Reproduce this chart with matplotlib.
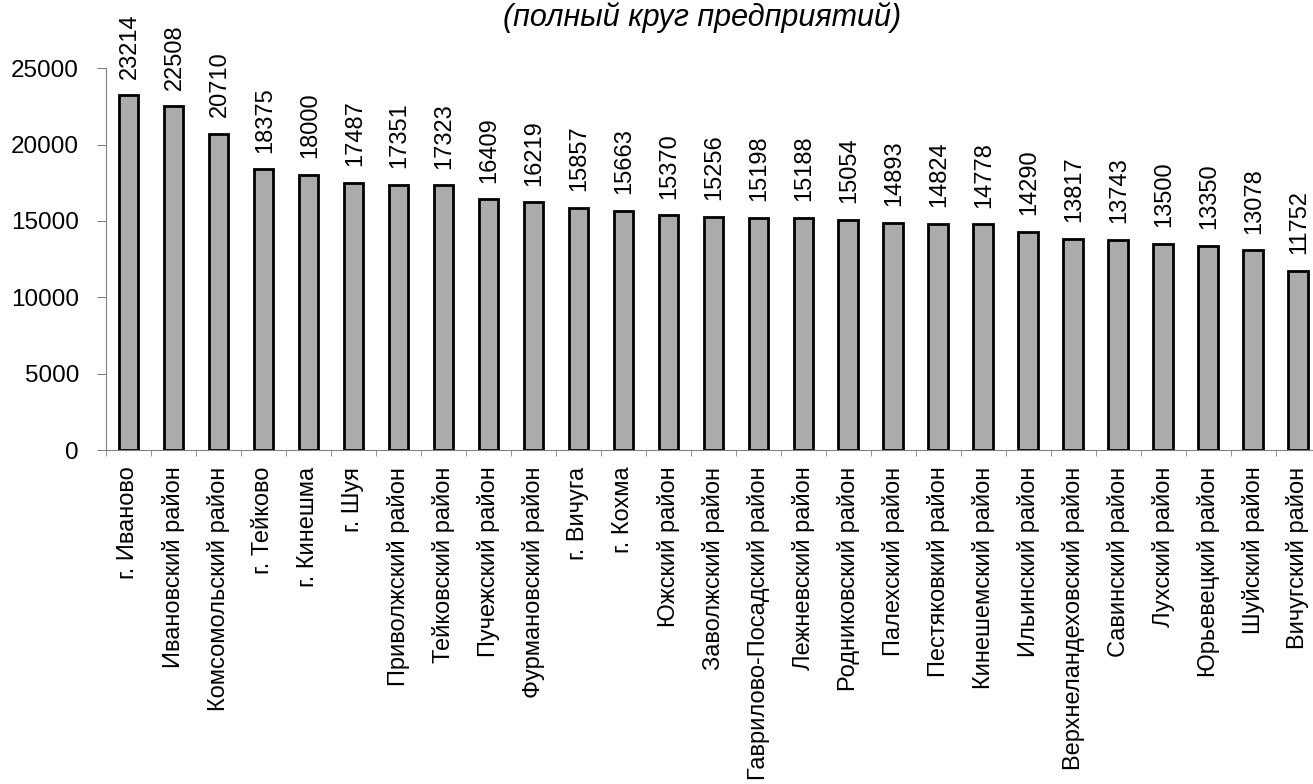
import numpy as np
import matplotlib.pyplot as plt

plt.rcParams['font.family'] = ['Liberation Sans', 'DejaVu Sans']

names = ['г. Иваново', 'Ивановский район', 'Комсомольский район', 'г. Тейково',
         'г. Кинешма', 'г. Шуя', 'Приволжский район', 'Тейковский район',
         'Пучежский район', 'Фурмановский район', 'г. Вичуга', 'г. Кохма',
         'Южский район', 'Заволжский район', 'Гаврилово-Посадский район',
         'Лежневский район', 'Родниковский район', 'Палехский район',
         'Пестяковкий район', 'Кинешемский район', 'Ильинский район',
         'Верхнеландеховский район', 'Савинский район', 'Лухский район',
         'Юрьевецкий район', 'Шуйский район', 'Вичугский район']
values = [23214, 22508, 20710, 18375, 18000, 17487, 17351, 17323, 16409, 16219,
          15857, 15663, 15370, 15256, 15198, 15188, 15054, 14893, 14824, 14778,
          14290, 13817, 13743, 13500, 13350, 13078, 11752]
yticks = [0, 5000, 10000, 15000, 20000, 25000]

fig = plt.figure(figsize=(13.13, 7.84), dpi=100)
ax = fig.add_axes([0.0807, 0.426, 0.925, 0.487])

x = np.arange(len(names))
ax.bar(x, values, width=0.43, color='#ababab', edgecolor='black', linewidth=2, zorder=3)

for xi, v in zip(x, values):
    ax.annotate(str(v), (xi, v), xytext=(1, 12), textcoords='offset points',
                rotation=90, ha='center', va='bottom', fontsize=17)

ax.set_xlim(-0.5, len(names) - 0.5)
ax.set_ylim(0, 25000)
ax.set_yticks(yticks)
ax.set_yticklabels([str(t) for t in yticks], fontsize=17.5)
ax.set_xticks(x)
ax.set_xticklabels(names, rotation=90, fontsize=17)
ax.set_xticks(np.arange(len(names) + 1) - 0.5, minor=True)
ax.tick_params(axis='x', which='major', length=0, pad=12)
ax.tick_params(axis='x', which='minor', length=4, color='#808080', direction='out')
ax.tick_params(axis='y', length=6.5, color='#808080', pad=13)

for s in ['top', 'right']:
    ax.spines[s].set_visible(False)
ax.spines['left'].set_color('#808080')
ax.spines['bottom'].set_color('#808080')

fig.text(0.535, 0.998, '(полный круг предприятий)', ha='center', va='top',
         fontsize=22, style='italic')

fig.savefig('out.png', dpi=100)
